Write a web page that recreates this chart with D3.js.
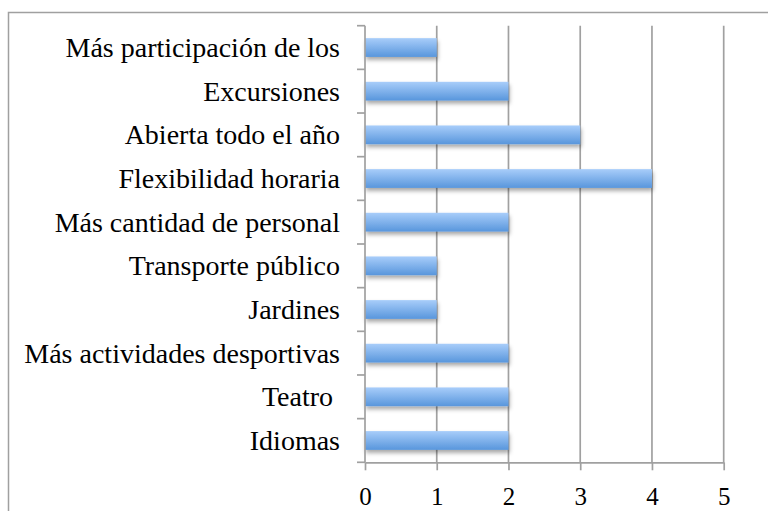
<!DOCTYPE html>
<html><head><meta charset="utf-8">
<script src="https://cdn.jsdelivr.net/npm/d3@7"></script>
<style>body{margin:0;background:#fff}svg{display:block}text{white-space:pre}</style>
</head><body>
<svg id="c" width="768" height="511"></svg>
<script>
const categories = ["Más participación de los","Excursiones","Abierta todo el año","Flexibilidad horaria","Más cantidad de personal","Transporte público","Jardines","Más actividades desportivas","Teatro ","Idiomas"];
const values = [1,2,3,4,2,1,1,2,2,2];
const xTicks = [0,1,2,3,4,5];

(function(){
const svg = d3.select("#c");
const pL = 365, pR = 723.7, pT = 25.7, pB = 462.3;
const font = "'Liberation Serif', 'DejaVu Serif', serif";
const fs = 28, fsx = 25;

svg.append("rect").attr("x",8.5).attr("y",12.5).attr("width",770).attr("height",520)
  .attr("fill","none").attr("stroke","#a0a0a0").attr("stroke-width",1.5);

const x = d3.scaleLinear().domain([0,5]).range([pL,pR]);
const y = d3.scaleBand().domain(categories).range([pT,pB]).paddingInner(0.57).paddingOuter(0.285);
const yb = d3.scaleBand().domain(categories).range([pT,pB]);

const defs = svg.append("defs");
const g = defs.append("linearGradient").attr("id","bg").attr("x1",0).attr("y1",0).attr("x2",0).attr("y2",1);
g.append("stop").attr("offset","0%").attr("stop-color","#a8cdfa");
g.append("stop").attr("offset","100%").attr("stop-color","#5896dc");
const f = defs.append("filter").attr("id","sh").attr("x","-10%").attr("y","-30%").attr("width","130%").attr("height","200%");
f.append("feDropShadow").attr("dx",1).attr("dy",3).attr("stdDeviation",2.2).attr("flood-color","#000").attr("flood-opacity",0.35);

svg.append("g").selectAll("line").data(xTicks.filter(d=>d>0)).join("line")
  .attr("x1",d=>x(d)).attr("x2",d=>x(d)).attr("y1",pT).attr("y2",pB)
  .attr("stroke","#a0a0a0").attr("stroke-width",1.7);

svg.append("g").selectAll("rect").data(categories).join("rect")
  .attr("x",x(0)).attr("y",d=>y(d)).attr("height",y.bandwidth())
  .attr("width",(d,i)=>x(values[i])-x(0))
  .attr("fill","url(#bg)").attr("filter","url(#sh)");

const xa = svg.append("g").attr("transform",`translate(0,${pB})`)
  .call(d3.axisBottom(x).tickValues(xTicks).tickFormat(d3.format("d")).tickSize(8).tickPadding(16.5).tickSizeOuter(0));
xa.select(".domain").attr("stroke","#a0a0a0").attr("stroke-width",1.7);
xa.selectAll(".tick line").attr("stroke","#a0a0a0").attr("stroke-width",1.7);
xa.selectAll("text").attr("font-family",font).attr("font-size",fsx).attr("fill","#000");

const ya = svg.append("g").attr("transform",`translate(${pL},0)`);
ya.append("line").attr("x1",0).attr("x2",0).attr("y1",pT).attr("y2",pB).attr("stroke","#a0a0a0").attr("stroke-width",1.7);
const yTickPos = d3.range(categories.length+1).map(i=>pT + i*yb.step());
ya.selectAll("line.t").data(yTickPos).join("line").attr("class","t")
  .attr("x1",-8).attr("x2",0).attr("y1",d=>d).attr("y2",d=>d).attr("stroke","#a0a0a0").attr("stroke-width",1.7);
ya.selectAll("text").data(categories).join("text")
  .attr("x",-25).attr("y",d=>yb(d)+yb.bandwidth()/2+9.5).attr("text-anchor","end")
  .attr("font-family",font).attr("font-size",fs).attr("fill","#000").text(d=>d);
})();
</script>
</body></html>
